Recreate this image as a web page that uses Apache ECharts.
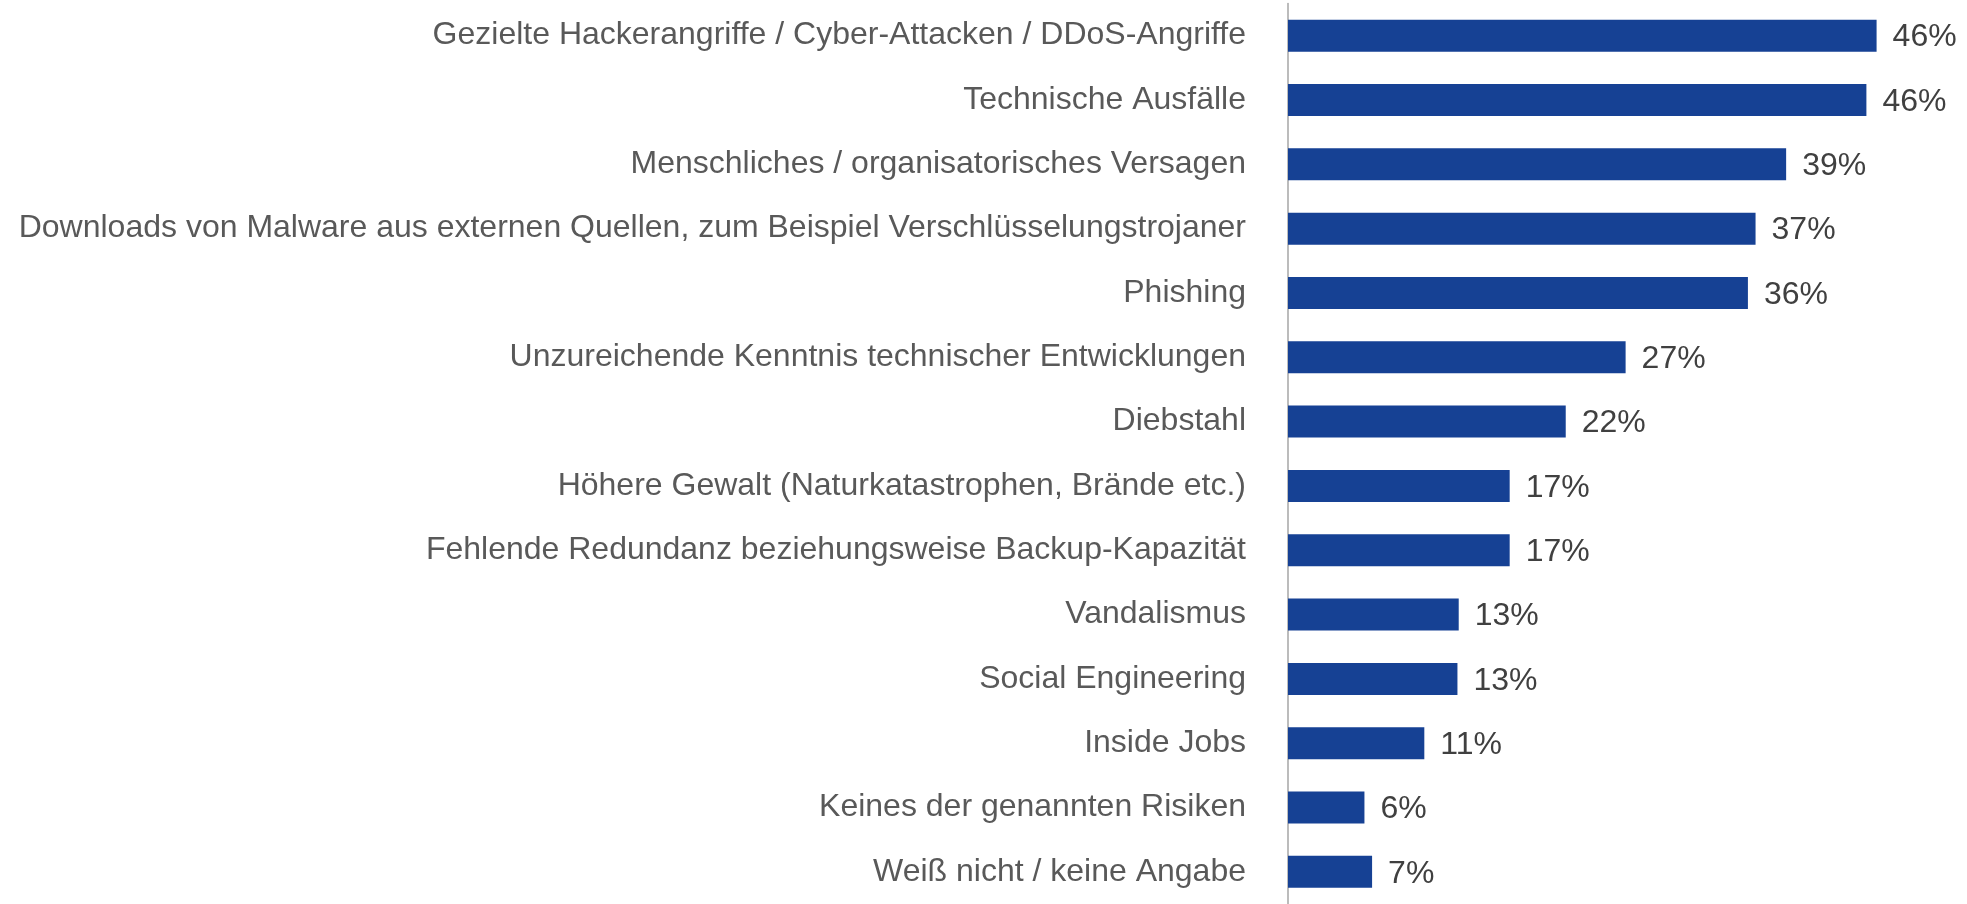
<!DOCTYPE html>
<html>
<head>
<meta charset="utf-8">
<script src="https://cdn.jsdelivr.net/npm/echarts@6/dist/echarts.min.js"></script>
<style>
  html, body { margin: 0; padding: 0; background: #fff; }
  #chart { width: 1967px; height: 904px; }
</style>
</head>
<body>
<div id="chart"></div>
<script>
// Risiken, von oben nach unten
var categories = [
  'Gezielte Hackerangriffe / Cyber-Attacken / DDoS-Angriffe',
  'Technische Ausfälle',
  'Menschliches / organisatorisches Versagen',
  'Downloads von Malware aus externen Quellen, zum Beispiel Verschlüsselungstrojaner',
  'Phishing',
  'Unzureichende Kenntnis technischer Entwicklungen',
  'Diebstahl',
  'Höhere Gewalt (Naturkatastrophen, Brände etc.)',
  'Fehlende Redundanz beziehungsweise Backup-Kapazität',
  'Vandalismus',
  'Social Engineering',
  'Inside Jobs',
  'Keines der genannten Risiken',
  'Weiß nicht / keine Angabe'
];

// Balkenlängen (aus dem Bild geschätzt)
var values = [46.2, 45.4, 39.1, 36.7, 36.1, 26.5, 21.8, 17.4, 17.4, 13.4, 13.3, 10.7, 6.0, 6.6];

// angezeigte Werte
var labels = ['46%', '46%', '39%', '37%', '36%', '27%', '22%', '17%', '17%', '13%', '13%', '11%', '6%', '7%'];

var myChart = echarts.init(document.getElementById('chart'));

var option = {
    animation: false,
    grid: {
        left: 1288,
        top: 3.5,
        width: 637,
        height: 909
    },
    xAxis: {
        type: 'value',
        min: 0,
        max: 50,
        show: false
    },
    yAxis: {
        type: 'category',
        inverse: true,
        data: categories,
        axisLine: { show: true, lineStyle: { color: '#A6A6A6', width: 1.5 } },
        axisTick: { show: false },
        axisLabel: {
            margin: 42,
            color: '#595959',
            fontSize: 32,
            padding: [4, 0, 0, 0],
            fontFamily: 'Liberation Sans, Arial, sans-serif'
        }
    },
    series: [
        {
            type: 'bar',
            data: values,
            barWidth: 32,
            itemStyle: { color: '#164194' },
            label: {
                show: true,
                position: 'right',
                distance: 16,
                offset: [0, 2],
                color: '#404040',
                fontSize: 32,
                fontFamily: 'Liberation Sans, Arial, sans-serif',
                formatter: function (p) { return labels[p.dataIndex]; }
            }
        }
    ]
};

myChart.setOption(option);
</script>
</body>
</html>
